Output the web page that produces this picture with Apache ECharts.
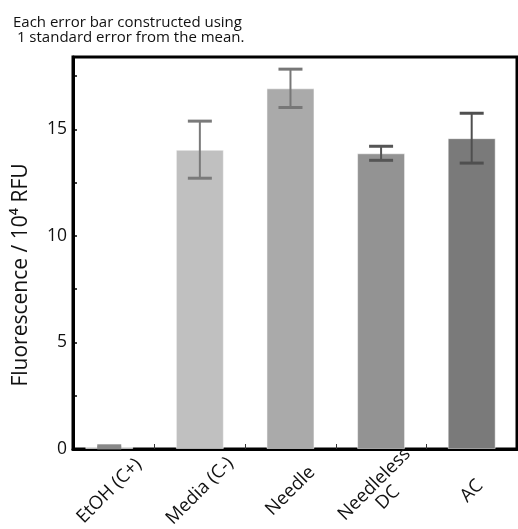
<!DOCTYPE html>
<html>
<head>
<meta charset="utf-8">
<script src="https://cdn.jsdelivr.net/npm/echarts@6/dist/echarts.min.js"></script>
<style>
  html, body { margin: 0; padding: 0; background: #fff; }
  #chart { width: 518px; height: 529px; }
</style>
</head>
<body>
<div id="chart"></div>
<script>
// Treatment groups along the x axis
const categories = ['EtOH (C+)', 'Media (C-)', 'Needle', 'Needleless\nDC', 'AC'];
// Mean fluorescence (10^4 RFU) and one standard error for each group
const means = [0.1, 14.05, 16.93, 13.88, 14.59];
const stdErrors = [0.05, 1.34, 0.9, 0.33, 1.17];
// Y axis tick labels
const yTickValues = [0, 5, 10, 15];

const barColors = ['#dcdcdc', '#c0c0c0', '#aaaaaa', '#939393', '#7a7a7a'];
const errColors = ['#888888', '#7a7a7a', '#777777', '#555555', '#4f4f4f'];
const FONT = 'Open Sans';

const positions = categories.map((_, i) => i + 1);

const chart = echarts.init(document.getElementById('chart'), null, { renderer: 'canvas' });

chart.setOption({
  animation: false,
  backgroundColor: '#ffffff',
  title: {
    text: 'Each error bar constructed using\n 1 standard error from the mean.',
    left: 8,
    top: 10,
    textStyle: { fontFamily: FONT, fontSize: 15, fontWeight: 'normal', color: '#111', lineHeight: 15 }
  },
  grid: {
    left: 73, right: 1, top: 57, bottom: 80,
    outerBoundsMode: 'none',
    containLabel: false,
    show: true, borderColor: '#000', borderWidth: 3, backgroundColor: 'transparent'
  },
  xAxis: {
    type: 'value',
    min: 0.6,
    max: 5.5,
    axisLine: { lineStyle: { color: '#000', width: 3 } },
    splitLine: { show: false },
    axisTick: {
      inside: true, length: 5,
      customValues: [1.5, 2.5, 3.5, 4.5],
      lineStyle: { color: '#333', width: 1 }
    },
    axisLabel: {
      customValues: positions,
      formatter: v => categories[Math.round(v) - 1] || '',
      rotate: 45,
      align: 'center',
      verticalAlign: 'middle',
      margin: 42,
      fontFamily: FONT,
      fontSize: 18.5,
      color: '#111',
      lineHeight: 19
    }
  },
  yAxis: {
    type: 'value',
    min: 0,
    max: 18.4,
    name: 'Fluorescence / 10⁴ RFU',
    nameLocation: 'middle',
    nameGap: 41,
    nameTextStyle: { fontFamily: FONT, fontSize: 21, color: '#111', padding: [0, 44, 0, 0] },
    axisLine: { show: true, lineStyle: { color: '#000', width: 3 } },
    splitLine: { show: false },
    axisTick: {
      inside: true, length: 4,
      customValues: [0, 2.5, 5, 7.5, 10, 12.5, 15, 17.5],
      lineStyle: { color: '#000', width: 1.5 }
    },
    axisLabel: {
      customValues: yTickValues,
      margin: 6,
      fontFamily: FONT,
      fontSize: 17.5,
      color: '#111'
    }
  },
  series: [
    {
      type: 'bar',
      barWidth: 48,
      data: positions.map((x, i) => ({
        value: [x, means[i]],
        itemStyle: { color: barColors[i], borderColor: 'rgba(255,255,255,0.5)', borderWidth: 1 }
      })),
      z: 2
    },
    {
      type: 'custom',
      z: 3,
      data: positions.map((x, i) => [x, means[i] - stdErrors[i], means[i] + stdErrors[i], i]),
      renderItem: function (params, api) {
        const x = api.value(0);
        const lo = api.coord([x, api.value(1)]);
        const hi = api.coord([x, api.value(2)]);
        const color = errColors[api.value(3)];
        const half = 12;
        return {
          type: 'group',
          children: [
            { type: 'line', shape: { x1: lo[0], y1: lo[1], x2: hi[0], y2: hi[1] },
              style: { stroke: color, lineWidth: 2 } },
            { type: 'line', shape: { x1: lo[0] - half, y1: lo[1], x2: lo[0] + half, y2: lo[1] },
              style: { stroke: color, lineWidth: 3 } },
            { type: 'line', shape: { x1: hi[0] - half, y1: hi[1], x2: hi[0] + half, y2: hi[1] },
              style: { stroke: color, lineWidth: 3 } }
          ]
        };
      }
    }
  ]
});
</script>
</body>
</html>
